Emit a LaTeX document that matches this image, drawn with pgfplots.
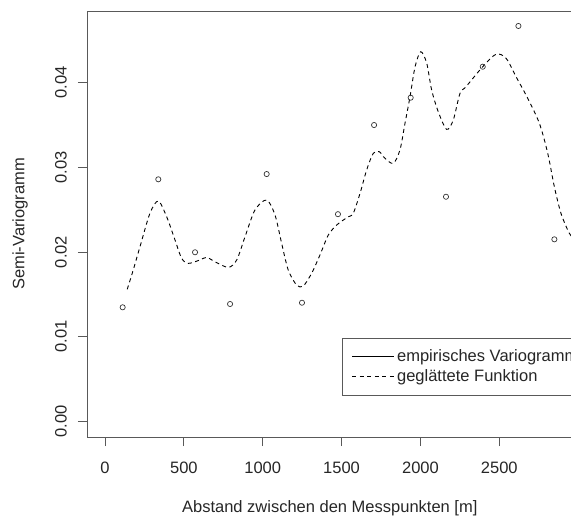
\documentclass[border=0pt]{standalone}
\usepackage{pgfplots}
\pgfplotsset{compat=1.18}
\usepackage{fontspec}
\setmainfont{Liberation Sans}
\pgfplotstableread{
x y
112 0.01347
338 0.02859
571 0.01997
793 0.01386
1025 0.02921
1249 0.01401
1477 0.02447
1706 0.03500
1938 0.03823
2162 0.02653
2395 0.04189
2621 0.04670
2849 0.02150
}\pts
\pgfplotstableread{
x y
141 0.01559
179 0.01787
222 0.02063
285 0.02457
338 0.02602
391 0.02417
444 0.02142
486 0.01926
528 0.01866
602 0.01906
645 0.01937
697 0.01885
782 0.01819
835 0.01906
888 0.02181
951 0.02496
1025 0.02614
1078 0.02437
1120 0.02103
1162 0.01787
1215 0.01610
1257 0.01598
1310 0.01748
1363 0.01965
1416 0.02201
1469 0.02319
1511 0.02378
1543 0.02417
1574 0.02457
1617 0.02693
1659 0.02969
1701 0.03166
1739 0.03185
1775 0.03107
1828 0.03048
1870 0.03205
1902 0.03520
1934 0.03835
1966 0.04189
2002 0.04366
2040 0.04229
2071 0.03914
2113 0.03657
2166 0.03449
2208 0.03559
2251 0.03875
2289 0.03953
2395 0.04189
2479 0.04336
2543 0.04288
2606 0.04071
2680 0.03816
2754 0.03520
2807 0.03166
2849 0.02771
2891 0.02457
2944 0.02221
2980 0.02150
}\curve
\begin{document}
\begin{tikzpicture}
\begin{scope}
\clip (0pt,0pt) rectangle (571pt,520pt);
\begin{axis}[
  at={(87pt,83pt)}, anchor=south west,
  scale only axis, width=485.5pt, height=426pt,
  xmin=-114, xmax=2964, ymin=-0.00185, ymax=0.04847,
  font=\fontsize{16.5}{19.8}\selectfont,
  axis line style={black!65, line width=0.9pt},
  every tick/.style={black!65, line width=0.9pt},
  tick align=outside, major tick length=9pt,
  xtick pos=bottom, ytick pos=left,
  xtick={0,500,1000,1500,2000,2500},
  ytick={0,0.01,0.02,0.03,0.04},
  scaled y ticks=false,
  /pgf/number format/assume math mode=true,
  /pgf/number format/1000 sep={},
  yticklabel style={rotate=90, anchor=center, yshift=17pt, text=black!85,
    /pgf/number format/fixed, /pgf/number format/fixed zerofill, /pgf/number format/precision=2},
  xticklabel style={anchor=center, yshift=-22pt, text=black!85},
  xlabel={Abstand zwischen den Messpunkten [m]},
  ylabel={Semi-Variogramm},
  every axis x label/.style={at={(axis description cs:0.5,-0.1667)}, anchor=center, text=black!85},
  every axis y label/.style={at={(axis description cs:-0.138,0.5)}, rotate=90, anchor=center, text=black!85},
  legend cell align=left,
  legend image code/.code={\draw[#1] (0pt,0pt) -- (27pt,0pt); \path (0pt,0pt) -- (42pt,0pt);},
  legend style={at={(axis cs:1500,0.0099)}, anchor=north west, draw=black!65, line width=0.9pt,
    fill=white, inner xsep=10pt, inner ysep=9.5pt, row sep=2.5pt,
    nodes={inner sep=2.2pt, text=black!85}},
]
\addplot[only marks, mark=o, mark size=2.6pt, black!80, line width=0.7pt, forget plot] table[x=x,y=y] {\pts};
\addlegendimage{black, line width=0.9pt}
\addlegendentry{empirisches Variogramm}
\addplot[black, line width=0.9pt, dash pattern=on 4pt off 3.5pt, smooth, no markers] table[x=x,y=y] {\curve};
\addlegendentry{geglättete Funktion}
\end{axis}
\end{scope}
\pgfresetboundingbox
\useasboundingbox (0pt,0pt) rectangle (571pt,520pt);
\end{tikzpicture}
\end{document}
